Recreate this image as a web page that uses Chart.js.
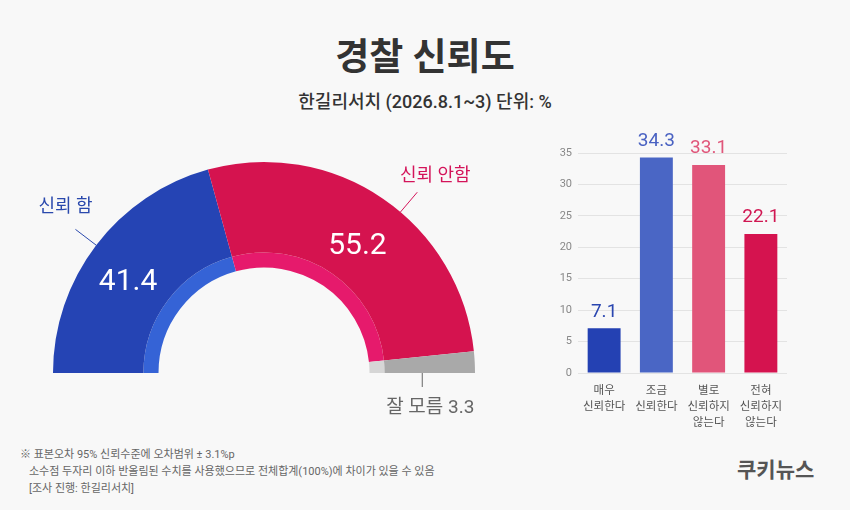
<!DOCTYPE html>
<html lang="ko">
<head>
<meta charset="UTF-8">
<title>경찰 신뢰도</title>
<script src="https://cdn.jsdelivr.net/npm/chart.js"></script>
<style>
  body { margin: 0; background: #f8f8f8; font-family: Roboto, "Noto Sans CJK KR", sans-serif; }
  #wrap { position: relative; width: 850px; height: 510px; overflow: hidden; }
  .title { position: absolute; left: 0; width: 850px; top: 37px; text-align: center; font-size: 37px; line-height: 42px; font-weight: bold; color: #333; }
  .sub { position: absolute; left: 0; width: 850px; top: 90px; text-align: center; font-size: 18px; line-height: 24px; font-weight: 500; color: #333; }
  canvas { position: absolute; }
  #donut { left: 0; top: 130px; }
  #bars { left: 540px; top: 120px; }
  .note { position: absolute; left: 20px; top: 446px; font-size: 11px; line-height: 17px; color: #666; }
  .note div.in { padding-left: 9px; }
  .logo { position: absolute; left: 737px; top: 453px; font-size: 21px; font-weight: bold; color: #555; }
</style>
</head>
<body>
<div id="wrap">
  <div class="title">경찰 신뢰도</div>
  <div class="sub">한길리서치 (2026.8.1~3) 단위: %</div>
  <canvas id="donut" width="540" height="310"></canvas>
  <canvas id="bars" width="310" height="320"></canvas>
  <div class="note">
    <div>※ 표본오차 95% 신뢰수준에 오차범위 ± 3.1%p</div>
    <div class="in">소수점 두자리 이하 반올림된 수치를 사용했으므로 전체합계(100%)에 차이가 있을 수 있음</div>
    <div class="in">[조사 진행: 한길리서치]</div>
  </div>
  <div class="logo">쿠키뉴스</div>
</div>
<script>
// 전체 응답 (반원 도넛)
const trustLabels = ['신뢰 함', '신뢰 안함', '잘 모름'];
const trustValues = [41.4, 55.2, 3.3];

// 세부 응답 (막대)
const levelLabels = [['매우', '신뢰한다'], ['조금', '신뢰한다'], ['별로', '신뢰하지', '않는다'], ['전혀', '신뢰하지', '않는다']];
const levelValues = [7.1, 34.3, 33.1, 22.1];
const yTickStep = 5;
const yTickMax = 35;

const ringColors = ['#2544b4', '#d5134f', '#a9a9a9'];
const accentColors = ['#3563d6', '#e61a6c', '#d6d6d6'];
const trustTextColors = ['#2a49ad', '#d4145a', '#666666'];
const barColors = ['#2441b3', '#4a66c5', '#e1557a', '#d5134f'];
const barTextColors = ['#2a46b0', '#4a62c2', '#e0567a', '#d01752'];

const FONT = 'Roboto, "Noto Sans CJK KR", sans-serif';

// 도넛 안팎 라벨
const donutLabels = {
  id: 'donutLabels',
  afterDatasetsDraw(chart) {
    const ctx = chart.ctx;
    const arcs = chart.getDatasetMeta(0).data;
    const inner = chart.getDatasetMeta(1).data[0].innerRadius;
    // 지시선이 호의 어디쯤에서 나오는지, 라벨을 선 끝에서 얼마나 띄울지
    const leadAt = [0.5, 0.56];
    const textOff = [[-10, -22], [18, -16]];
    ctx.save();
    ctx.textAlign = 'center';
    ctx.textBaseline = 'middle';
    arcs.forEach((arc, i) => {
      const p = arc.getProps(['x', 'y', 'startAngle', 'endAngle', 'innerRadius', 'outerRadius']);
      const mid = (p.startAngle + p.endAngle) / 2;
      ctx.strokeStyle = trustTextColors[i];
      ctx.lineWidth = 1;
      if (i < 2) {
        const rm = (p.innerRadius + p.outerRadius) / 2;
        ctx.font = '30px ' + FONT;
        ctx.fillStyle = '#ffffff';
        ctx.fillText(String(trustValues[i]), p.x + rm * Math.cos(mid) - (i === 0 ? 4 : 0), p.y + rm * Math.sin(mid) + 10);
        const a = p.startAngle + (p.endAngle - p.startAngle) * leadAt[i];
        const c = Math.cos(a), s = Math.sin(a);
        const x0 = p.x + p.outerRadius * c, y0 = p.y + p.outerRadius * s;
        const x1 = p.x + (p.outerRadius + 26) * c, y1 = p.y + (p.outerRadius + 26) * s;
        ctx.beginPath();
        ctx.moveTo(x0, y0);
        ctx.lineTo(x1, y1);
        ctx.stroke();
        ctx.font = '18px ' + FONT;
        ctx.fillStyle = trustTextColors[i];
        ctx.fillText(trustLabels[i], x1 + textOff[i][0], y1 + textOff[i][1]);
      } else {
        const xr = p.x + (inner + p.outerRadius) / 2;
        ctx.beginPath();
        ctx.moveTo(xr, p.y);
        ctx.lineTo(xr, p.y + 14);
        ctx.stroke();
        ctx.font = '19px ' + FONT;
        ctx.fillStyle = trustTextColors[i];
        ctx.fillText(trustLabels[i] + ' ' + trustValues[i], xr + 8, p.y + 35);
      }
    });
    ctx.restore();
  }
};

new Chart(document.getElementById('donut'), {
  type: 'doughnut',
  data: {
    labels: trustLabels,
    datasets: [
      { data: trustValues, backgroundColor: ringColors, borderWidth: 0, weight: 6 },
      { data: trustValues, backgroundColor: accentColors, borderWidth: 0, weight: 1 }
    ]
  },
  options: {
    responsive: false,
    animation: false,
    events: [],
    rotation: -90,
    circumference: 180,
    cutout: '50%',
    layout: { padding: { left: 53, right: 65, top: 32, bottom: 67 } },
    plugins: { legend: { display: false }, tooltip: { enabled: false } }
  },
  plugins: [donutLabels]
});

// 막대 위 값
const barValues = {
  id: 'barValues',
  afterDatasetsDraw(chart) {
    const ctx = chart.ctx;
    ctx.save();
    ctx.textAlign = 'center';
    ctx.textBaseline = 'bottom';
    ctx.font = '19px ' + FONT;
    chart.getDatasetMeta(0).data.forEach((bar, i) => {
      ctx.fillStyle = barTextColors[i];
      ctx.fillText(String(levelValues[i]), bar.x, bar.y - 7);
    });
    ctx.restore();
  }
};

new Chart(document.getElementById('bars'), {
  type: 'bar',
  data: {
    labels: levelLabels,
    datasets: [{
      data: levelValues,
      backgroundColor: barColors,
      barPercentage: 0.63,
      categoryPercentage: 1
    }]
  },
  options: {
    responsive: false,
    animation: false,
    events: [],
    layout: { padding: { top: 33, right: 63, left: 0, bottom: 0 } },
    plugins: { legend: { display: false }, tooltip: { enabled: false } },
    scales: {
      x: {
        grid: { display: false },
        border: { display: false },
        ticks: { color: '#555', font: { family: FONT, size: 11.5, lineHeight: 1.4 }, padding: 2, maxRotation: 0 },
        afterFit(scale) { scale.height = 67; }
      },
      y: {
        min: 0,
        max: yTickMax,
        ticks: { stepSize: yTickStep, color: '#888', font: { family: FONT, size: 11 }, padding: 6 },
        grid: { color: '#e3e3e3', drawTicks: false },
        border: { display: false },
        afterFit(scale) { scale.width = 38; }
      }
    }
  },
  plugins: [barValues]
});
</script>
</body>
</html>
